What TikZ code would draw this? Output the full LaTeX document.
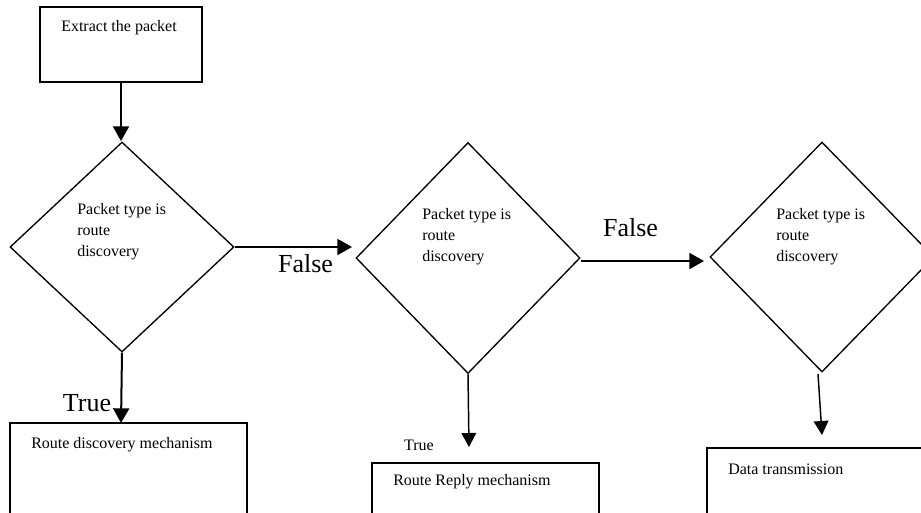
\documentclass[tikz,border=0pt]{standalone}
\usepackage{fontspec}
\setmainfont{Liberation Serif}
\usetikzlibrary{shapes.geometric,arrows.meta}
\begin{document}
\begin{tikzpicture}[x=0.75pt,y=-0.75pt,
  box/.style={draw, rectangle, line width=1.2pt, inner sep=0pt},
  dia/.style={draw, diamond, line width=1pt, inner sep=0pt, aspect=1},
  txt/.style={font=\fontsize{12}{15.75}\selectfont, inner sep=0pt, anchor=west, align=left},
  big/.style={font=\fontsize{19.5}{22}\selectfont, inner sep=0pt},
  arr/.style={-{Triangle[width=12pt,length=11pt]}, line width=1.5pt},
  arrthin/.style={-{Triangle[width=11pt,length=10.5pt]}, line width=1.1pt}]
\useasboundingbox (0,0) rectangle (921,512);
\clip (0,0) rectangle (921,512);
\fill[white] (0,0) rectangle (921,512);

% boxes
\node[box, minimum width=121.5pt, minimum height=56.25pt] (b1) at (121,44.5) {};
\node[box, minimum width=177.75pt, minimum height=80.25pt] (b2) at (128.5,476.5) {};
\node[box, minimum width=170.25pt, minimum height=50.25pt] (b3) at (485.5,496.5) {};
\node[box, minimum width=174.75pt, minimum height=61.5pt] (b4) at (823.5,489) {};

\node[txt] (tb1) at (61,28) {Extract the packet};
\node[txt] (tb2) at (31,445) {Route discovery mechanism};
\node[txt] (tb3) at (393,482) {Route Reply mechanism};
\node[txt] (tb4) at (728,469) {Data transmission};

% diamonds
\node[dia, minimum width=168pt, minimum height=157.5pt] (d1) at (122,247) {};
\node[dia, minimum width=168pt, minimum height=173.25pt] (d2) at (468,258) {};
\node[dia, minimum width=168pt, minimum height=172.5pt] (d3) at (822,257) {};

\node[txt] (td1) at (77,232) {Packet type is\\route\\discovery};
\node[txt] (td2) at (422,237) {Packet type is\\route\\discovery};
\node[txt] (td3) at (776,237) {Packet type is\\route\\discovery};

% arrow end points
\coordinate (t1) at (121,141);
\coordinate (t2) at (352,247);
\coordinate (t3) at (704,261);
\coordinate (t4) at (121,423);
\coordinate (t5) at (469,447);
\coordinate (t6) at (822,435);
\coordinate (s6) at (818,374);

\draw[arr] (b1.south) -- (t1);
\draw[arr] (d1.east) -- (t2);
\draw[arr] (d2.east |- t3) -- (t3);
\draw[arr] (d1.south) -- (t4);
\draw[arrthin] (d2.south) -- (t5);
\draw[arrthin] (s6) -- (t6);

% labels
\node[big] (f1) at (305.5,264) {False};
\node[big] (f2) at (630.5,228) {False};
\node[big] (tr1) at (87,403) {True};
\node[txt, anchor=center] (tr2) at (419,445) {True};
\end{tikzpicture}
\end{document}
